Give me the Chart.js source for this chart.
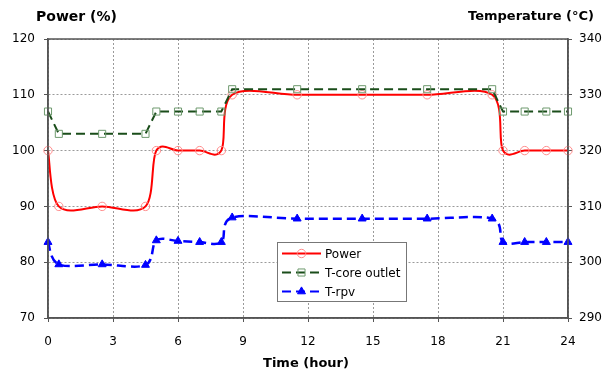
<!DOCTYPE html>
<html><head><meta charset="utf-8">
<script src="https://cdn.jsdelivr.net/npm/chart.js@4/dist/chart.umd.min.js"></script>
<style>html,body{margin:0;padding:0;background:#fff}#wrap{width:611px;height:376px;position:relative}</style>
</head><body><div id="wrap"><canvas id="c" width="611" height="376"></canvas></div>
<script>
const hours = [0, 0.5, 2.5, 4.5, 5, 6, 7, 8, 8.5, 11.5, 14.5, 17.5, 20.5, 21, 22, 23, 24];
const power = [100, 90, 90, 90, 100, 100, 100, 100, 110, 110, 110, 110, 110, 100, 100, 100, 100];
const tcore = [327, 323, 323, 323, 327, 327, 327, 327, 331, 331, 331, 331, 331, 327, 327, 327, 327];
const trpv  = [303.6, 299.6, 299.6, 299.5, 303.9, 303.8, 303.6, 303.6, 308, 307.8, 307.8, 307.8, 307.8, 303.6, 303.6, 303.6, 303.6];
const xTicks = [0, 3, 6, 9, 12, 15, 18, 21, 24];
const seriesNames = ['Power', 'T-core outlet', 'T-rpv'];
const leftTitle = 'Power (%)';
const rightTitle = 'Temperature (°C)';
const xTitle = 'Time (hour)';

const FONT = '"DejaVu Sans", Verdana, sans-serif';
const pts = arr => arr.map((v, i) => ({x: hours[i], y: v}));

const styles = [
  {color: '#ff0000', pColor: '#ff8c8c', dash: [], pstyle: 'circle', r: 4.2, fill: false, smooth: true},
  {color: '#1a4d1a', pColor: '#6f9a6f', dash: [9, 5], pstyle: 'rect', r: 5, fill: false, smooth: false},
  {color: '#0000ff', pColor: '#0000ff', dash: [9, 5], pstyle: 'triangle', r: 4.6, fill: true, smooth: true}
];

// Excel-like smoothing: control points = p +/- (next - prev) / 6
const excelSmooth = {
  id: 'excelSmooth',
  beforeDatasetDraw(chart, args) {
    const meta = args.meta, s = styles[args.index];
    if (!s.smooth) return;
    const line = meta.dataset;
    line.updateControlPoints(chart.chartArea, 'x');
    const P = meta.data;
    for (let i = 0; i < P.length; i++) {
      const prev = P[Math.max(0, i - 1)], next = P[Math.min(P.length - 1, i + 1)], p = P[i];
      const dx = (next.x - prev.x) / 6, dy = (next.y - prev.y) / 6;
      p.cp1x = p.x - dx; p.cp1y = p.y - dy;
      p.cp2x = p.x + dx; p.cp2y = p.y + dy;
    }
  }
};

const overlay = {
  id: 'overlay',
  afterDraw(chart) {
    const ctx = chart.ctx, a = chart.chartArea;
    ctx.save();
    ctx.strokeStyle = '#555'; ctx.lineWidth = 1.5; ctx.setLineDash([]);
    ctx.strokeRect(a.left, a.top, a.right - a.left, a.bottom - a.top);
    ctx.fillStyle = '#000';
    ctx.textBaseline = 'middle';
    ctx.font = 'bold 14px ' + FONT;
    ctx.textAlign = 'left'; ctx.fillText(leftTitle, 36, 17);
    ctx.font = 'bold 13px ' + FONT;
    ctx.textAlign = 'right'; ctx.fillText(rightTitle, 594, 17);
    ctx.textAlign = 'center'; ctx.fillText(xTitle, 306, 364);
    // legend
    const lx = 277, ly = 242, lw = 129, lh = 59;
    ctx.fillStyle = '#fff'; ctx.fillRect(lx, ly, lw, lh);
    ctx.strokeStyle = '#777'; ctx.lineWidth = 1; ctx.strokeRect(lx + 0.5, ly + 0.5, lw, lh);
    ctx.font = '12px ' + FONT; ctx.textAlign = 'left';
    seriesNames.forEach((n, i) => {
      const s = styles[i], y = ly + 11.5 + i * 19, x0 = lx + 5, x1 = lx + 44, cx = (x0 + x1) / 2;
      ctx.strokeStyle = s.color; ctx.lineWidth = 2;
      ctx.setLineDash(i === 0 ? [] : [9, 5]);
      ctx.lineDashOffset = 0;
      ctx.beginPath(); ctx.moveTo(x0, y); ctx.lineTo(x1, y); ctx.stroke();
      ctx.setLineDash([]);
      ctx.lineWidth = 1;
      ctx.strokeStyle = s.pColor;
      ctx.fillStyle = s.fill ? s.pColor : 'rgba(255,255,255,0)';
      Chart.helpers.drawPoint(ctx, {pointStyle: s.pstyle, radius: s.r, borderWidth: 1}, cx, y);
      ctx.fillStyle = '#000';
      ctx.fillText(n, lx + 48, y + 1);
    });
    ctx.restore();
  }
};

const ds = [power, tcore, trpv].map((arr, i) => {
  const s = styles[i];
  return {
    label: seriesNames[i], data: pts(arr), yAxisID: i === 0 ? 'y' : 'y2',
    borderColor: s.color, borderWidth: i === 2 ? 2.5 : 2, borderDash: s.dash,
    tension: s.smooth ? 0.4 : 0, cubicInterpolationMode: 'default',
    pointStyle: s.pstyle, pointRadius: s.r, pointBorderWidth: 1,
    pointBorderColor: s.pColor, pointBackgroundColor: s.fill ? s.pColor : 'rgba(0,0,0,0)',
    clip: false, order: 3 - i
  };
});

const gridOpts = {color: '#9a9a9a', tickLength: 4, tickColor: '#555', tickBorderDash: []};
const borderOpts = {display: true, color: '#555', width: 1.5, dash: [2, 2]};

new Chart(document.getElementById('c'), {
  type: 'line',
  data: {datasets: ds},
  options: {
    responsive: false, animation: false, devicePixelRatio: 1,
    layout: {padding: {top: 39, left: 0, right: 0, bottom: 0}},
    plugins: {legend: {display: false}, tooltip: {enabled: false}},
    scales: {
      x: {
        type: 'linear', min: 0, max: 24,
        afterBuildTicks: sc => { sc.ticks = xTicks.map(v => ({value: v})); },
        afterFit: sc => { sc.height = 58; },
        grid: gridOpts, border: borderOpts,
        ticks: {color: '#000', font: {family: FONT, size: 12}, padding: 13, maxRotation: 0}
      },
      y: {
        position: 'left', min: 70, max: 120,
        ticks: {stepSize: 10, color: '#000', font: {family: FONT, size: 12}, padding: 9},
        afterFit: sc => { sc.width = 48; },
        grid: gridOpts, border: borderOpts
      },
      y2: {
        position: 'right', min: 290, max: 340,
        ticks: {stepSize: 10, color: '#000', font: {family: FONT, size: 12}, padding: 7},
        afterFit: sc => { sc.width = 43; },
        grid: {drawOnChartArea: false, tickLength: 4, tickColor: '#555'},
        border: {display: true, color: '#555', width: 1.5}
      }
    }
  },
  plugins: [excelSmooth, overlay]
});
</script>
</body></html>
